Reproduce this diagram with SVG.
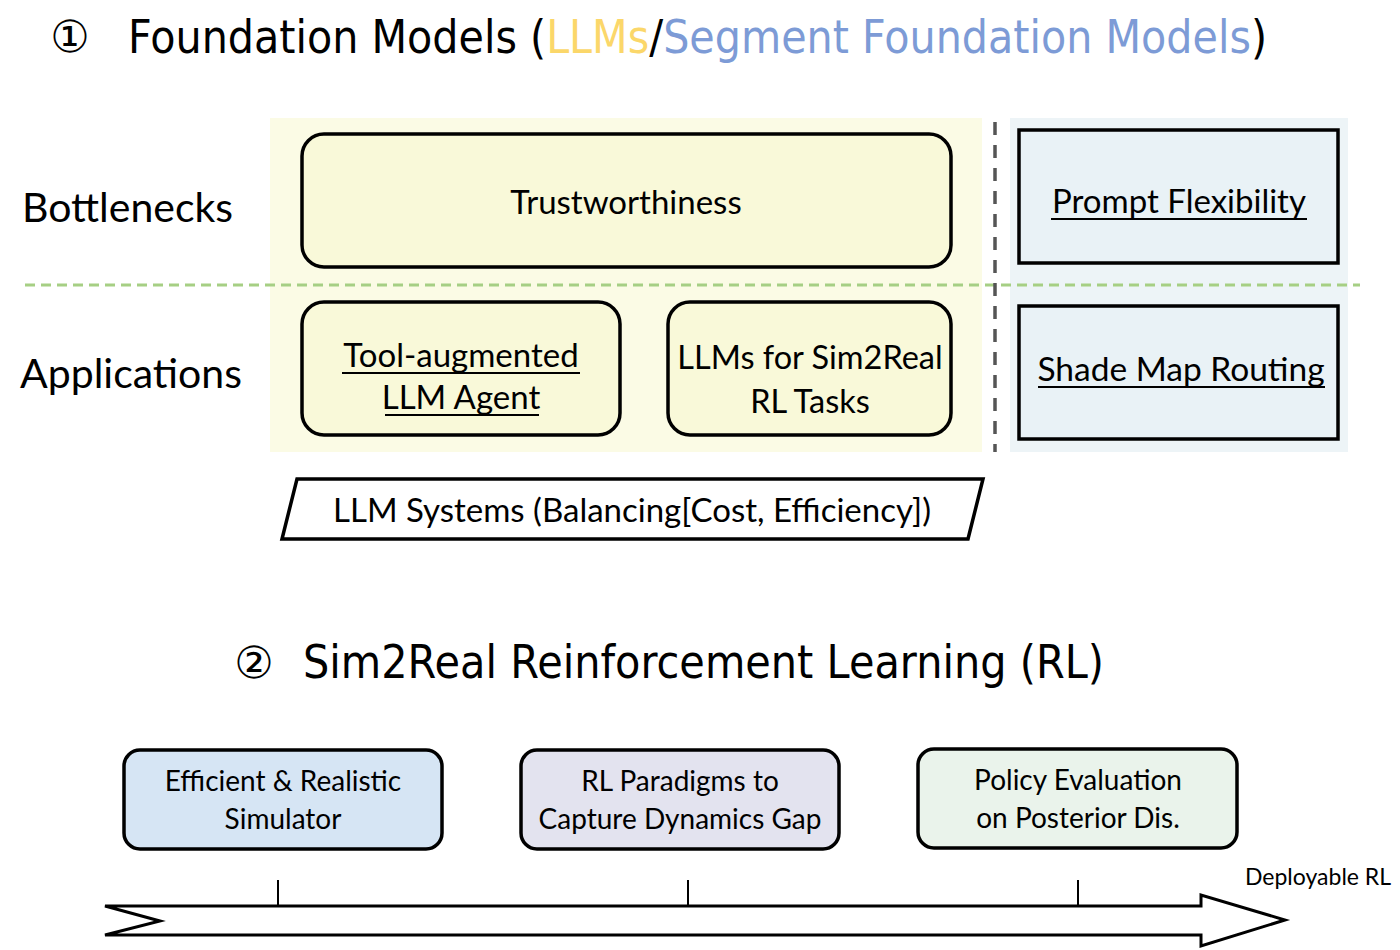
<svg xmlns="http://www.w3.org/2000/svg" width="1400" height="950" viewBox="0 0 1400 950">
<style>
.title{font-family:"DejaVu Sans","Liberation Sans",sans-serif;font-size:46px}
.circ{font-family:"DejaVu Sans",sans-serif;font-size:44px;fill:#000}
.lbl{font-family:Lato,"Open Sans",sans-serif;fill:#000;text-anchor:middle}
.side{font-family:Lato,"Open Sans",sans-serif;font-size:41px;fill:#000}
.ybox{fill:#f9f9d9;stroke:#000;stroke-width:3.5}
.bbox{fill:#e9f2f6;stroke:#000;stroke-width:3.5}
.rbox{stroke:#000;stroke-width:3.5}
.ul{stroke:#000;stroke-width:2}
.blk{fill:#000}
.yel{fill:#fbd76a}
.blu{fill:#7d9bd6}
</style>
<rect width="1400" height="950" fill="#fff"/>
<g id="title1">
<text class="circ" x="70" y="52" text-anchor="middle">①</text>
<text class="title blk" x="128" y="53" textLength="1139" lengthAdjust="spacingAndGlyphs">Foundation Models (<tspan class="yel">LLMs</tspan>/<tspan class="blu">Segment Foundation Models</tspan>)</text>
</g>
<g id="backgrounds">
<rect x="270" y="118" width="712" height="334" fill="#fbfbe5"/>
<rect x="1010" y="118" width="338" height="334" fill="#edf4f7"/>
</g>
<g id="dividers">
<line x1="25" y1="285" x2="1360" y2="285" stroke="#a6cf84" stroke-width="3" stroke-dasharray="10 6"/>
<line x1="995" y1="122" x2="995" y2="452" stroke="#555" stroke-width="3.5" stroke-dasharray="13 10"/>
</g>
<g id="row-labels">
<text class="side" x="22" y="222" font-size="42">Bottlenecks</text>
<text class="side" x="20" y="388" font-size="42">Applications</text>
</g>
<g id="trustworthiness">
<rect class="ybox" x="302" y="134" width="649" height="133" rx="22"/>
<text class="lbl" x="626" y="214" font-size="33">Trustworthiness</text>
</g>
<g id="tool-agent">
<rect class="ybox" x="302" y="302" width="318" height="133" rx="22"/>
<text class="lbl" x="461" y="367" font-size="33">Tool-augmented</text>
<line class="ul" x1="342" y1="373" x2="580" y2="373"/>
<text class="lbl" x="461" y="409" font-size="33">LLM Agent</text>
<line class="ul" x1="385" y1="415" x2="539" y2="415"/>
</g>
<g id="llm-sim2real">
<rect class="ybox" x="668" y="302" width="283" height="133" rx="22"/>
<text class="lbl" x="810" y="369" font-size="32.5">LLMs for Sim2Real</text>
<text class="lbl" x="810" y="413" font-size="32.5">RL Tasks</text>
</g>
<g id="prompt-flex">
<rect class="bbox" x="1019" y="130" width="319" height="133"/>
<text class="lbl" x="1179" y="213" font-size="33">Prompt Flexibility</text>
<line class="ul" x1="1051" y1="219" x2="1307" y2="219"/>
</g>
<g id="shade-map">
<rect class="bbox" x="1019" y="306" width="319" height="133"/>
<text class="lbl" x="1181" y="381" font-size="33.5">Shade Map Routing</text>
<line class="ul" x1="1038" y1="387" x2="1325" y2="387"/>
</g>
<g id="llm-systems">
<polygon points="297,479 983,479 968,539 282,539" fill="#fff" stroke="#000" stroke-width="3.5"/>
<text class="lbl" x="632" y="522" font-size="33">LLM Systems (Balancing[Cost, Efficiency])</text>
</g>
<g id="title2">
<text class="circ" x="254" y="678" text-anchor="middle">②</text>
<text class="title blk" x="303" y="678" textLength="801" lengthAdjust="spacingAndGlyphs">Sim2Real Reinforcement Learning (RL)</text>
</g>
<g id="simulator">
<rect class="rbox" x="124" y="750" width="318" height="99" rx="16" fill="#d6e5f4"/>
<text class="lbl" x="283" y="791" font-size="28">Efficient &amp; Realistic</text>
<text class="lbl" x="283" y="829" font-size="28">Simulator</text>
</g>
<g id="paradigms">
<rect class="rbox" x="521" y="750" width="318" height="99" rx="16" fill="#e3e3ef"/>
<text class="lbl" x="680" y="791" font-size="28">RL Paradigms to</text>
<text class="lbl" x="680" y="829" font-size="28">Capture Dynamics Gap</text>
</g>
<g id="policy-eval">
<rect class="rbox" x="918" y="749" width="319" height="99" rx="16" fill="#eaf3eb"/>
<text class="lbl" x="1078" y="790" font-size="28">Policy Evaluation</text>
<text class="lbl" x="1078" y="828" font-size="28">on Posterior Dis.</text>
</g>
<g id="connectors">
<polygon points="105,906 1201,906 1201,895 1285,920 1201,946 1201,935 105,935 160,921" fill="#fff" stroke="#000" stroke-width="3"/>
<line x1="278" y1="880" x2="278" y2="906" stroke="#000" stroke-width="2"/>
<line x1="688" y1="880" x2="688" y2="906" stroke="#000" stroke-width="2"/>
<line x1="1078" y1="880" x2="1078" y2="906" stroke="#000" stroke-width="2"/>
</g>
<g id="deployable">
<text x="1245" y="885" font-family="Lato,'Open Sans',sans-serif" font-size="23" fill="#000">Deployable RL</text>
</g>
</svg>
